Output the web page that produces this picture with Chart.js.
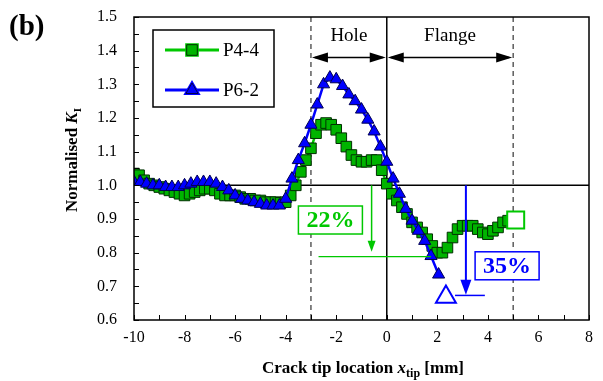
<!DOCTYPE html>
<html>
<head>
<meta charset="utf-8">
<script src="https://cdn.jsdelivr.net/npm/chart.js@4.4.0/dist/chart.umd.min.js"></script>
<style>
  html, body { margin: 0; padding: 0; background: #fff; }
</style>
</head>
<body>
<canvas id="kI" width="603" height="381"></canvas>
<script>
// P4-4 (green squares)
const p44X = [-10.0, -9.8, -9.6, -9.4, -9.2, -9.0, -8.8, -8.6, -8.4, -8.2, -8.0, -7.8, -7.6, -7.4, -7.2, -7.0,
  -6.8, -6.6, -6.4, -6.2, -6.0, -5.8, -5.6, -5.4, -5.2, -5.0, -4.8, -4.6, -4.4, -4.2, -4.0, -3.8, -3.6, -3.4,
  -3.2, -3.0, -2.8, -2.6, -2.4, -2.2, -2.0, -1.8, -1.6, -1.4, -1.2, -1.0, -0.8, -0.6, -0.4, -0.2, 0.0, 0.2,
  0.4, 0.6, 0.8, 1.0, 1.2, 1.4, 1.6, 1.8, 2.0, 2.2, 2.4, 2.6, 2.8, 3.0, 3.2, 3.4, 3.6, 3.8, 4.0, 4.2, 4.4, 4.6, 4.8];
const p44Y = [1.035, 1.03, 1.015, 1.005, 1.0, 0.995, 0.99, 0.985, 0.98, 0.975, 0.97, 0.975, 0.98, 0.985, 0.99, 0.99,
  0.985, 0.975, 0.97, 0.97, 0.97, 0.965, 0.96, 0.96, 0.955, 0.955, 0.95, 0.95, 0.95, 0.948, 0.95, 0.97, 1.0, 1.04,
  1.075, 1.11, 1.155, 1.18, 1.185, 1.18, 1.165, 1.14, 1.115, 1.09, 1.075, 1.07, 1.07, 1.075, 1.075, 1.045, 1.005, 0.975,
  0.955, 0.935, 0.915, 0.89, 0.875, 0.86, 0.84, 0.82, 0.80, 0.80, 0.815, 0.845, 0.87, 0.88, 0.88, 0.88, 0.87, 0.86, 0.855, 0.865, 0.875, 0.89, 0.895];
const p44End = [5.1, 0.897];

// P6-2 (blue triangles)
const p62X = [-10.0, -9.75, -9.5, -9.25, -9.0, -8.75, -8.5, -8.25, -8.0, -7.75, -7.5, -7.25, -7.0, -6.75, -6.5,
  -6.25, -6.0, -5.75, -5.5, -5.25, -5.0, -4.75, -4.5, -4.25, -4.0, -3.75, -3.5, -3.25, -3.0, -2.75, -2.5, -2.25,
  -2.0, -1.75, -1.5, -1.25, -1.0, -0.75, -0.5, -0.25, 0.0, 0.25, 0.5, 0.75, 1.0, 1.25, 1.5, 1.75, 2.05];
const p62Y = [1.01, 1.01, 1.005, 1.0, 1.0, 0.995, 0.995, 0.995, 1.0, 1.005, 1.01, 1.01, 1.01, 1.005, 0.995,
  0.985, 0.97, 0.96, 0.955, 0.95, 0.945, 0.94, 0.94, 0.94, 0.96, 1.02, 1.075, 1.125, 1.18, 1.24, 1.30, 1.32,
  1.315, 1.295, 1.27, 1.25, 1.225, 1.195, 1.16, 1.115, 1.07, 1.02, 0.975, 0.93, 0.895, 0.865, 0.835, 0.79, 0.735];
const p62End = [2.34, 0.668];

const seriesNames = ['P4-4', 'P6-2'];
const zoneEdges = [-3, 5];
const zoneNames = ['Hole', 'Flange'];
const dropLabels = ['22%', '35%'];

const serif = '"Liberation Serif", "Times New Roman", serif';
const green = '#00c800';
const blue = '#0000ff';

function pts(xs, ys) { return xs.map((v, i) => ({ x: v, y: ys[i] })); }

function arrowHead(ctx, tx, ty, ang, len, wid) {
  ctx.beginPath();
  ctx.moveTo(tx, ty);
  ctx.lineTo(tx - len * Math.cos(ang) + wid / 2 * Math.sin(ang), ty - len * Math.sin(ang) - wid / 2 * Math.cos(ang));
  ctx.lineTo(tx - len * Math.cos(ang) - wid / 2 * Math.sin(ang), ty - len * Math.sin(ang) + wid / 2 * Math.cos(ang));
  ctx.closePath();
  ctx.fill();
}

// draws a list of [text, font, dy] pieces centred on 0
function richText(ctx, parts) {
  let w = 0;
  parts.forEach(p => { ctx.font = p[1]; w += ctx.measureText(p[0]).width; });
  let cx = -w / 2;
  parts.forEach(p => {
    ctx.font = p[1];
    ctx.fillText(p[0], cx, p[2]);
    cx += ctx.measureText(p[0]).width;
  });
}

const deco = {
  id: 'deco',
  beforeDatasetsDraw(chart) {
    const { ctx, chartArea: a, scales: { x, y } } = chart;
    ctx.save();
    ctx.strokeStyle = '#000';
    ctx.lineWidth = 1.5;
    ctx.beginPath();
    ctx.moveTo(x.getPixelForValue(0), a.top);
    ctx.lineTo(x.getPixelForValue(0), a.bottom);
    ctx.moveTo(a.left, y.getPixelForValue(1));
    ctx.lineTo(a.right, y.getPixelForValue(1));
    ctx.stroke();
    ctx.setLineDash([5, 4]);
    ctx.strokeStyle = '#444';
    ctx.lineWidth = 1.3;
    zoneEdges.forEach(v => {
      ctx.beginPath();
      ctx.moveTo(x.getPixelForValue(v), a.top);
      ctx.lineTo(x.getPixelForValue(v), a.bottom);
      ctx.stroke();
    });
    ctx.restore();
  },
  afterDatasetsDraw(chart) {
    const { ctx, chartArea: a, scales: { x, y } } = chart;
    ctx.save();

    // hole / flange arrows
    const ay = y.getPixelForValue(1.38);
    const xs = [zoneEdges[0], 0, zoneEdges[1]].map(v => x.getPixelForValue(v));
    ctx.strokeStyle = '#000';
    ctx.fillStyle = '#000';
    ctx.lineWidth = 1.5;
    for (let i = 0; i < 2; i++) {
      ctx.beginPath();
      ctx.moveTo(xs[i] + 4, ay);
      ctx.lineTo(xs[i + 1] - 4, ay);
      ctx.stroke();
      arrowHead(ctx, xs[i] + 1, ay, Math.PI, 16, 10);
      arrowHead(ctx, xs[i + 1] - 1, ay, 0, 16, 10);
      ctx.font = '19px ' + serif;
      ctx.textAlign = 'center';
      ctx.textBaseline = 'middle';
      ctx.fillText(zoneNames[i], (xs[i] + xs[i + 1]) / 2, 36);
    }

    // 22% drop (green)
    ctx.strokeStyle = green;
    ctx.fillStyle = green;
    ctx.lineWidth = 1.5;
    const gx = x.getPixelForValue(-0.6);
    const gTip = y.getPixelForValue(0.803);
    ctx.beginPath();
    ctx.moveTo(gx, y.getPixelForValue(1.0));
    ctx.lineTo(gx, gTip - 8);
    ctx.stroke();
    arrowHead(ctx, gx, gTip, Math.PI / 2, 11, 8);
    ctx.lineWidth = 1.2;
    ctx.beginPath();
    ctx.moveTo(x.getPixelForValue(-2.7), y.getPixelForValue(0.788));
    ctx.lineTo(x.getPixelForValue(1.75), y.getPixelForValue(0.788));
    ctx.stroke();

    // 35% drop (blue)
    ctx.strokeStyle = blue;
    ctx.fillStyle = blue;
    ctx.lineWidth = 2;
    const bx = x.getPixelForValue(3.13);
    const bTip = y.getPixelForValue(0.675);
    ctx.beginPath();
    ctx.moveTo(bx, y.getPixelForValue(1.0));
    ctx.lineTo(bx, bTip - 10);
    ctx.stroke();
    arrowHead(ctx, bx, bTip, Math.PI / 2, 15, 11);
    ctx.lineWidth = 1.5;
    ctx.beginPath();
    ctx.moveTo(x.getPixelForValue(2.7), y.getPixelForValue(0.673));
    ctx.lineTo(x.getPixelForValue(3.88), y.getPixelForValue(0.673));
    ctx.stroke();

    // label boxes
    const boxes = [[-2.23, 0.897, green, dropLabels[0]], [4.76, 0.761, blue, dropLabels[1]]];
    boxes.forEach(b => {
      const cx = x.getPixelForValue(b[0]), cy = y.getPixelForValue(b[1]);
      ctx.fillStyle = '#fff';
      ctx.fillRect(cx - 32, cy - 14, 64, 28);
      ctx.strokeStyle = b[2];
      ctx.lineWidth = 1.5;
      ctx.strokeRect(cx - 32, cy - 14, 64, 28);
      ctx.fillStyle = b[2];
      ctx.font = 'bold 24px ' + serif;
      ctx.textAlign = 'center';
      ctx.textBaseline = 'middle';
      ctx.fillText(b[3], cx, cy + 1);
    });
    ctx.restore();
  },
  afterDraw(chart) {
    const { ctx, chartArea: a, scales: { x, y } } = chart;
    ctx.save();
    // frame + inward ticks
    ctx.strokeStyle = '#000';
    ctx.lineWidth = 1.5;
    ctx.strokeRect(a.left, a.top, a.right - a.left, a.bottom - a.top);
    ctx.lineWidth = 1;
    ctx.beginPath();
    for (let v = 0.6; v <= 1.5001; v += 0.05) {
      const py = Math.round(y.getPixelForValue(v)) + 0.5;
      ctx.moveTo(a.left, py);
      ctx.lineTo(a.left + 5, py);
    }
    for (let v = -10; v <= 8; v += 1) {
      const px = Math.round(x.getPixelForValue(v)) + 0.5;
      ctx.moveTo(px, a.bottom);
      ctx.lineTo(px, a.bottom - 5);
    }
    ctx.stroke();

    // legend
    ctx.fillStyle = '#fff';
    ctx.fillRect(153, 30, 121, 77);
    ctx.lineWidth = 1.5;
    ctx.strokeRect(153, 30, 121, 77);
    const ds = chart.data.datasets;
    [[1, 50], [0, 90]].forEach(([di, ly]) => {
      const d = ds[di];
      ctx.strokeStyle = d.borderColor;
      ctx.lineWidth = 3;
      ctx.beginPath();
      ctx.moveTo(165, ly);
      ctx.lineTo(219, ly);
      ctx.stroke();
      Chart.helpers.drawPoint(ctx, {
        pointStyle: d.pointStyle, radius: d.pointRadius, borderWidth: 1
      }, 192, ly);
      ctx.fillStyle = d.pointBackgroundColor;
      ctx.strokeStyle = d.pointBorderColor;
      ctx.lineWidth = 1;
      ctx.fill();
      ctx.stroke();
      ctx.fillStyle = '#000';
      ctx.font = '19px ' + serif;
      ctx.textAlign = 'left';
      ctx.textBaseline = 'middle';
      ctx.fillText(d.label, 223, ly + 1);
    });

    // axis titles
    ctx.fillStyle = '#000';
    ctx.textAlign = 'left';
    ctx.textBaseline = 'alphabetic';
    ctx.save();
    ctx.translate(77, 160);
    ctx.rotate(-Math.PI / 2);
    richText(ctx, [['Normalised ', 'bold 17px ' + serif, 0], ['K', 'italic bold 17px ' + serif, 0],
      ['I', 'bold 11px ' + serif, 4]]);
    ctx.restore();
    ctx.save();
    ctx.translate(363, 373);
    richText(ctx, [['Crack tip location ', 'bold 17px ' + serif, 0], ['x', 'italic bold 17px ' + serif, 0],
      ['tip', 'bold 12px ' + serif, 4], [' [mm]', 'bold 17px ' + serif, 0]]);
    ctx.restore();
    ctx.font = 'bold 29px ' + serif;
    ctx.fillText('(b)', 9, 35);
    ctx.restore();
  }
};

new Chart(document.getElementById('kI').getContext('2d'), {
  type: 'scatter',
  data: {
    datasets: [
      {
        label: seriesNames[1],
        data: pts(p62X, p62Y),
        showLine: true,
        borderColor: blue,
        borderWidth: 2.5,
        pointStyle: 'triangle',
        pointRadius: 7,
        pointBackgroundColor: blue,
        pointBorderColor: '#000050',
        pointBorderWidth: 1,
        order: 1
      },
      {
        label: seriesNames[0],
        data: pts(p44X, p44Y),
        showLine: true,
        borderColor: green,
        borderWidth: 2.5,
        pointStyle: 'rect',
        pointRadius: 7.5,
        pointBackgroundColor: '#00b400',
        pointBorderColor: '#003000',
        pointBorderWidth: 1,
        order: 2
      },
      {
        label: '',
        data: [{ x: p62End[0], y: p62End[1] }],
        pointStyle: 'triangle',
        pointRadius: 11.5,
        pointBackgroundColor: '#fff',
        pointBorderColor: blue,
        pointBorderWidth: 2,
        order: 0
      },
      {
        label: '',
        data: [{ x: p44End[0], y: p44End[1] }],
        pointStyle: 'rect',
        pointRadius: 12,
        pointBackgroundColor: '#fff',
        pointBorderColor: green,
        pointBorderWidth: 2,
        order: 0
      }
    ]
  },
  options: {
    responsive: false,
    animation: false,
    layout: { padding: { left: 0, right: 11, top: 17, bottom: 0 } },
    plugins: { legend: { display: false }, tooltip: { enabled: false } },
    scales: {
      x: {
        type: 'linear',
        min: -10,
        max: 8,
        grid: { display: false, drawTicks: false },
        border: { display: false },
        ticks: { stepSize: 2, padding: 8, color: '#000', font: { family: serif, size: 16 } },
        afterFit(s) { s.height = 61; s.paddingLeft = 0; s.paddingRight = 0; }
      },
      y: {
        min: 0.6,
        max: 1.5,
        grid: { display: false, drawTicks: false },
        border: { display: false },
        ticks: {
          stepSize: 0.1, padding: 17, color: '#000', font: { family: serif, size: 16 },
          callback: v => v.toFixed(1)
        },
        afterFit(s) { s.width = 134; s.paddingTop = 0; s.paddingBottom = 0; }
      }
    }
  },
  plugins: [deco]
});
</script>
</body>
</html>
